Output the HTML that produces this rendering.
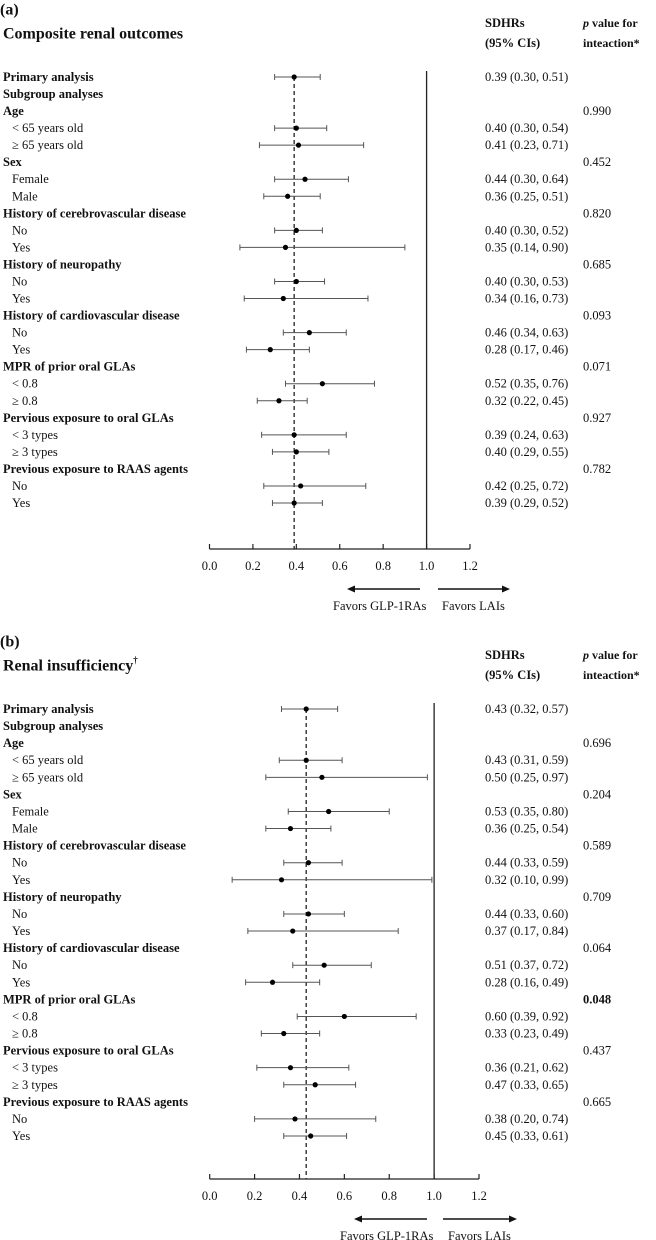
<!DOCTYPE html>
<html><head><meta charset="utf-8"><style>
html,body{margin:0;padding:0;background:#fff;}
svg{display:block;font-family:"Liberation Serif",serif;}
</style></head><body>
<svg id="chart" width="656" height="1240" viewBox="0 0 656 1240" xmlns="http://www.w3.org/2000/svg"></svg>
<script>
const rowLabels = ["Primary analysis","Subgroup analyses","Age","< 65 years old","\u2265 65 years old","Sex","Female","Male","History of cerebrovascular disease","No","Yes","History of neuropathy","No","Yes","History of cardiovascular disease","No","Yes","MPR of prior oral GLAs","< 0.8","\u2265 0.8","Pervious exposure to oral GLAs","< 3 types","\u2265 3 types","Previous exposure to RAAS agents","No","Yes"];
const rowBold = [1,1,1,0,0,1,0,0,1,0,0,1,0,0,1,0,0,1,0,0,1,0,0,1,0,0];
const estA = [0.39,null,null,0.40,0.41,null,0.44,0.36,null,0.40,0.35,null,0.40,0.34,null,0.46,0.28,null,0.52,0.32,null,0.39,0.40,null,0.42,0.39];
const lowA = [0.30,null,null,0.30,0.23,null,0.30,0.25,null,0.30,0.14,null,0.30,0.16,null,0.34,0.17,null,0.35,0.22,null,0.24,0.29,null,0.25,0.29];
const highA = [0.51,null,null,0.54,0.71,null,0.64,0.51,null,0.52,0.90,null,0.53,0.73,null,0.63,0.46,null,0.76,0.45,null,0.63,0.55,null,0.72,0.52];
const pA = [null,null,"0.990",null,null,"0.452",null,null,"0.820",null,null,"0.685",null,null,"0.093",null,null,"0.071",null,null,"0.927",null,null,"0.782",null,null];
const estB = [0.43,null,null,0.43,0.50,null,0.53,0.36,null,0.44,0.32,null,0.44,0.37,null,0.51,0.28,null,0.60,0.33,null,0.36,0.47,null,0.38,0.45];
const lowB = [0.32,null,null,0.31,0.25,null,0.35,0.25,null,0.33,0.10,null,0.33,0.17,null,0.37,0.16,null,0.39,0.23,null,0.21,0.33,null,0.20,0.33];
const highB = [0.57,null,null,0.59,0.97,null,0.80,0.54,null,0.59,0.99,null,0.60,0.84,null,0.72,0.49,null,0.92,0.49,null,0.62,0.65,null,0.74,0.61];
const pB = [null,null,"0.696",null,null,"0.204",null,null,"0.589",null,null,"0.709",null,null,"0.064",null,null,"0.048",null,null,"0.437",null,null,"0.665",null,null];
const pBoldB = ["0.048"];
const ticks = [0,0.2,0.4,0.6,0.8,1.0,1.2];
const overallA = 0.39, overallB = 0.43;

const NS = "http://www.w3.org/2000/svg";
const svg = document.getElementById("chart");
function el(tag, attrs, parent){
  const e = document.createElementNS(NS, tag);
  for (const k in attrs) e.setAttribute(k, attrs[k]);
  (parent||svg).appendChild(e);
  return e;
}
function txt(x,y,s,size,bold,parent,anchor){
  const t = el("text",{x:x,y:y,"font-size":size,"font-weight":bold?"bold":"normal","dominant-baseline":"central","text-anchor":anchor||"start",fill:"#111"},parent);
  t.textContent = s;
  return t;
}

function panel(cfg){
  const g = el("g",{});
  
  
  const xs = v => cfg.x0 + (v/1.2)*(cfg.x12-cfg.x0);
  const ys = i => cfg.y0 + i*cfg.step;
  const lab = txt(0, cfg.top+10, cfg.letter, 16, true, g);
  
  
  const tt = txt(3, cfg.top+34, cfg.title, 16, true, g);
  
  
  if (cfg.dagger){ const ts=el("tspan",{"font-size":9,dy:-6},tt); ts.textContent="\u2020"; }
  const h1 = txt(485, cfg.top+23, "SDHRs", 12.5, true, g);
  
  
  const h2 = txt(485, cfg.top+43, "(95% CIs)", 12.5, true, g);
  
  
  const h3 = el("text",{x:583,y:cfg.top+23,"font-size":12,"font-weight":"bold","dominant-baseline":"central",fill:"#111"},g);
  
  
  const it = el("tspan",{"font-style":"italic"},h3); it.textContent="p";
  const r = el("tspan",{},h3); r.textContent="  value for";
  const h4 = txt(583, cfg.top+43, "inteaction*", 12, true, g);
  
  
  const ref = el("line",{x1:xs(1.0),x2:xs(1.0),y1:ys(0)-6,y2:cfg.axisY,stroke:"#222","stroke-width":1.3},g);
  
  
  const ov = el("line",{x1:xs(cfg.overall),x2:xs(cfg.overall),y1:ys(0),y2:cfg.axisY,stroke:"#222","stroke-width":1.3,"stroke-dasharray":"4,3"},g);
  
  
  const ax = el("line",{x1:xs(0),x2:xs(1.2),y1:cfg.axisY,y2:cfg.axisY,stroke:"#222","stroke-width":1.3},g);
  
  
  ticks.forEach(t=>{
    const tk = el("line",{x1:xs(t),x2:xs(t),y1:cfg.axisY-5,y2:cfg.axisY,stroke:"#222","stroke-width":1.2},g);
    
    
    const tl = txt(xs(t), cfg.axisY+17, t.toFixed(1), 12.5, false, g, "middle");
    
    
  });
  rowLabels.forEach((s,i)=>{
    const y = ys(i);
    const rl = txt(rowBold[i]?3:12, y, s, 12.5, !!rowBold[i], g);
    
    
    if (cfg.est[i]!=null){
      const ci = el("line",{x1:xs(cfg.low[i]),x2:xs(cfg.high[i]),y1:y,y2:y,stroke:"#555","stroke-width":1},g);
      
      
      [cfg.low[i],cfg.high[i]].forEach(v=>{
        const c = el("line",{x1:xs(v),x2:xs(v),y1:y-3,y2:y+3,stroke:"#555","stroke-width":1},g);
        
        
      });
      const pt = el("circle",{cx:xs(cfg.est[i]),cy:y,r:2.6,fill:"#000"},g);
      
      
      const vt = txt(485, y, cfg.est[i].toFixed(2)+" ("+cfg.low[i].toFixed(2)+", "+cfg.high[i].toFixed(2)+")", 12.5, false, g);
      
      
    }
    if (cfg.p[i]!=null){
      const pv = txt(583, y, cfg.p[i], 12.5, cfg.pBold.indexOf(cfg.p[i])>=0, g);
      
      
    }
  });
  const ay = cfg.axisY+40;
  const la = el("line",{x1:cfg.la[0],x2:cfg.la[1]+6,y1:ay,y2:ay,stroke:"#111","stroke-width":1.5},g);
  
  
  el("polygon",{points:`${cfg.la[1]},${ay} ${cfg.la[1]+8},${ay-3.5} ${cfg.la[1]+8},${ay+3.5}`,fill:"#111"},g);
  const ra = el("line",{x1:cfg.ra[0],x2:cfg.ra[1]-6,y1:ay,y2:ay,stroke:"#111","stroke-width":1.5},g);
  
  
  el("polygon",{points:`${cfg.ra[1]},${ay} ${cfg.ra[1]-8},${ay-3.5} ${cfg.ra[1]-8},${ay+3.5}`,fill:"#111"},g);
  const f1 = txt(cfg.ft[0], ay+17, "Favors GLP-1RAs", 12.5, false, g);
  
  
  const f2 = txt(cfg.ft[1], ay+17, "Favors LAIs", 12.5, false, g);
  
  
}

panel({name:"panel-a",letter:"(a)",title:"Composite renal outcomes",dagger:false,top:0,y0:77,step:17.04,axisY:549,x0:209.5,x12:470,overall:overallA,est:estA,low:lowA,high:highA,p:pA,pBold:[],la:[420,347],ra:[438,510],ft:[333,442]});
panel({name:"panel-b",letter:"(b)",title:"Renal insufficiency",dagger:true,top:632,y0:709,step:17.08,axisY:1179,x0:209.7,x12:479,overall:overallB,est:estB,low:lowB,high:highB,p:pB,pBold:pBoldB,la:[427,354],ra:[443,517],ft:[340,448]});
</script>
</body></html>
